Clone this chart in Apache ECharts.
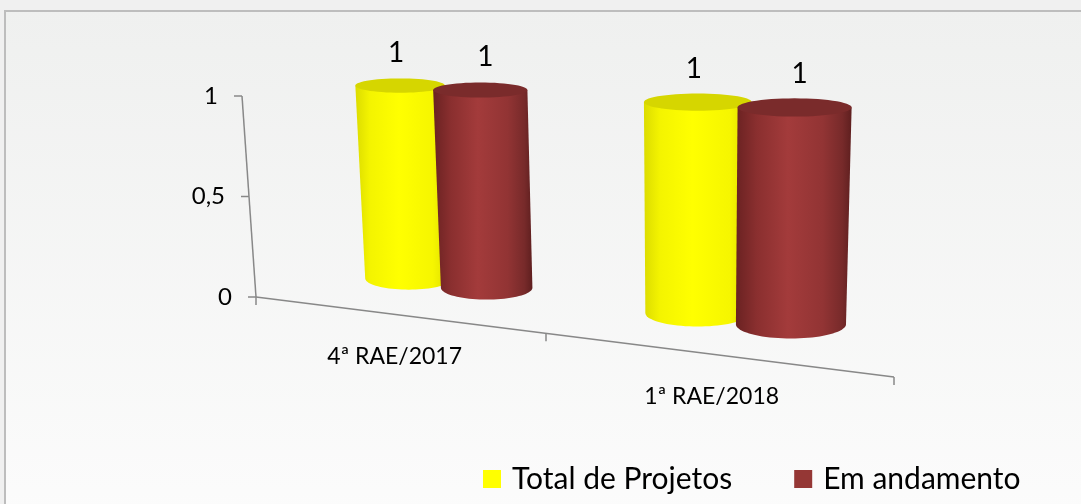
<!DOCTYPE html>
<html><head><meta charset="utf-8">
<script src="https://cdn.jsdelivr.net/npm/echarts@6/dist/echarts.min.js"></script>
<style>html,body{margin:0;padding:0;background:#f0f0f0;} #c{width:1081px;height:504px;}</style>
</head><body><div id="c"></div>
<script>
// ---- data ----
const categories = ['4ª RAE/2017', '1ª RAE/2018'];
const seriesNames = ['Total de Projetos', 'Em andamento'];
const totalProjetos = [1, 1];
const emAndamento = [1, 1];
const valueTicks = [0, 0.5, 1];
const valueTickLabels = ['0', '0,5', '1'];

// ---- perspective helpers (layout) ----
const FONT = 'Lato, "Open Sans", sans-serif';
const VP = [688, 6500];
const PB = -1 / 6;
function f(s) { return (1 + PB) * s / (1 + PB * s); }
function depth(s) { return 1 / (1 + PB * s); }
function lift(xb, yb, y) { const k = (VP[1] - y) / (VP[1] - yb); return [VP[0] + (xb - VP[0]) * k, y]; }
function axisBase(s) { const ff = f(s); return [256 + 638 * ff, 297 + 80 * ff]; }
function axisPoint(s, t) { const b = axisBase(s); const H = 201 * depth(s); return lift(b[0], b[1], b[1] - t * H); }
function barBase(s) { const x = 317 + 596 * f(s); return [x, 278 + 0.12 * (x - 406)]; }
function barPoint(s, t) { const b = barBase(s); const H = 187 * depth(s); return lift(b[0], b[1], b[1] - t * H); }
function toS(cs, px) { return (px - cs.x) / cs.width; }
function toT(cs, py) { return (cs.y + cs.height - py) / cs.height; }
function fmt(v) { return String(v).replace('.', ','); }

function ellipsePts(cx, cy, rx, ry, a0, a1, n) {
  const pts = [];
  for (let i = 0; i <= n; i++) {
    const a = a0 + (a1 - a0) * i / n;
    pts.push([cx + rx * Math.cos(a), cy + ry * Math.sin(a)]);
  }
  return pts;
}

function makeCylRender(k, stops, topColor) {
  return function (params, api) {
    const cs = params.coordSys;
    const cat = api.value(0), val = api.value(1);
    const p = api.coord([cat, val]);
    const band = api.size([1, 0])[0] / cs.width;
    const sc = toS(cs, p[0]) + (k === 0 ? -1 : 1) * 0.144 * band;
    const w = 0.33 * band;
    const t = toT(cs, p[1]);
    const bL = barBase(sc - w / 2), bR = barBase(sc + w / 2);
    const tL = barPoint(sc - w / 2, t), tR = barPoint(sc + w / 2, t);
    const bcx = (bL[0] + bR[0]) / 2, bcy = (bL[1] + bR[1]) / 2, brx = (bR[0] - bL[0]) / 2, bry = 0.26 * brx;
    const tcx = (tL[0] + tR[0]) / 2, tcy = (tL[1] + tR[1]) / 2, trx = (tR[0] - tL[0]) / 2, try_ = 0.16 * trx;
    const side = [[tcx - trx, tcy]].concat(ellipsePts(bcx, bcy, brx, bry, Math.PI, 0, 40)).concat([[tcx + trx, tcy]]);
    const top = ellipsePts(tcx, tcy, trx, try_, 0, Math.PI * 2, 60);
    return {
      type: 'group',
      children: [
        { type: 'polygon', shape: { points: side }, style: { fill: new echarts.graphic.LinearGradient(0, 0, 1, 0, stops) } },
        { type: 'polygon', shape: { points: top }, style: { fill: topColor } },
        { type: 'text', x: tcx + (k === 0 ? -4 : 5), y: tcy - 33, style: { text: fmt(val), fontSize: 28, fontFamily: FONT, fill: '#000', align: 'center', verticalAlign: 'middle' } }
      ]
    };
  };
}

function renderAxes(params, api) {
  const cs = params.coordSys;
  const band = api.size([1, 0])[0] / cs.width;
  const s0 = toS(cs, api.coord([0, 0])[0]) - band / 2;
  const sEnd = toS(cs, api.coord([categories.length - 1, 0])[0]) + band / 2;
  const col = '#888888', lw = 1.5;
  const ch = [];
  const vTop = axisPoint(s0, toT(cs, api.coord([0, valueTicks[valueTicks.length - 1]])[1]));
  const vBot = axisPoint(s0, toT(cs, api.coord([0, valueTicks[0]])[1]));
  ch.push({ type: 'line', shape: { x1: vBot[0], y1: vBot[1], x2: vTop[0], y2: vTop[1] }, style: { stroke: col, lineWidth: lw } });
  valueTicks.forEach((v, i) => {
    const P = axisPoint(s0, toT(cs, api.coord([0, v])[1]));
    ch.push({ type: 'line', shape: { x1: P[0] - 8, y1: P[1], x2: P[0], y2: P[1] }, style: { stroke: col, lineWidth: lw } });
    ch.push({ type: 'text', x: P[0] - 24, y: P[1], style: { text: valueTickLabels[i], fontSize: 24, fontFamily: FONT, fill: '#000', align: 'right', verticalAlign: 'middle' } });
  });
  const cA = axisBase(s0), cB = axisBase(sEnd);
  ch.push({ type: 'line', shape: { x1: cA[0], y1: cA[1], x2: cB[0], y2: cB[1] }, style: { stroke: col, lineWidth: lw } });
  const bounds = [s0];
  categories.forEach((c, i) => {
    const sc = toS(cs, api.coord([i, 0])[0]);
    bounds.push(sc + band / 2);
    const P = axisBase(sc);
    ch.push({ type: 'text', x: P[0], y: P[1] + 42, style: { text: c, fontSize: 23, fontFamily: FONT, fill: '#000', align: 'center', verticalAlign: 'middle' } });
  });
  bounds.forEach(s => {
    const P = axisBase(s);
    ch.push({ type: 'line', shape: { x1: P[0], y1: P[1], x2: P[0], y2: P[1] + 8 }, style: { stroke: col, lineWidth: lw } });
  });
  return { type: 'group', children: ch };
}

const yellowStops = [
  { offset: 0, color: '#dcdc00' }, { offset: 0.15, color: '#f4f400' }, { offset: 0.45, color: '#ffff00' },
  { offset: 0.8, color: '#f6f600' }, { offset: 1, color: '#d8d800' }];
const redStops = [
  { offset: 0, color: '#6a2222' }, { offset: 0.18, color: '#8a2f2f' }, { offset: 0.45, color: '#a33b3b' },
  { offset: 0.75, color: '#923434' }, { offset: 0.92, color: '#772a2a' }, { offset: 1, color: '#5e1f1f' }];

const chart = echarts.init(document.getElementById('c'), null, { renderer: 'canvas' });
chart.setOption({
  backgroundColor: '#f0f0f0',
  animation: false,
  graphic: [{
    type: 'rect', z: -100, silent: true,
    shape: { x: 5, y: 11, width: 1100, height: 520 },
    style: {
      fill: new echarts.graphic.LinearGradient(0, 0, 0, 1, [{ offset: 0, color: '#eff0ef' }, { offset: 1, color: '#fcfcfc' }]),
      stroke: '#bdbdbd', lineWidth: 2
    }
  }],
  legend: {
    data: seriesNames, left: 483, top: 464, padding: 0, icon: 'rect', itemWidth: 18, itemHeight: 18, itemGap: 62,
    textStyle: { fontSize: 30, fontFamily: FONT, color: '#000', padding: [0, 0, 0, 6] }
  },
  grid: { left: 0, right: 0, top: 0, bottom: 0 },
  xAxis: { type: 'category', data: categories, show: false, boundaryGap: true },
  yAxis: { type: 'value', min: 0, max: 1, interval: 0.5, show: false },
  series: [
    { type: 'custom', name: 'axes', coordinateSystem: 'cartesian2d', silent: true, clip: false,
      data: [[0, 0]], encode: { x: 0, y: 1 }, renderItem: renderAxes },
    { type: 'custom', name: seriesNames[0], coordinateSystem: 'cartesian2d', clip: false,
      itemStyle: { color: '#ffff00' }, encode: { x: 0, y: 1 },
      data: totalProjetos.map((v, i) => [i, v]), renderItem: makeCylRender(0, yellowStops, '#d6d600') },
    { type: 'custom', name: seriesNames[1], coordinateSystem: 'cartesian2d', clip: false,
      itemStyle: { color: '#953735' }, encode: { x: 0, y: 1 },
      data: emAndamento.map((v, i) => [i, v]), renderItem: makeCylRender(1, redStops, '#7a2b2b') }
  ]
});
</script></body></html>
